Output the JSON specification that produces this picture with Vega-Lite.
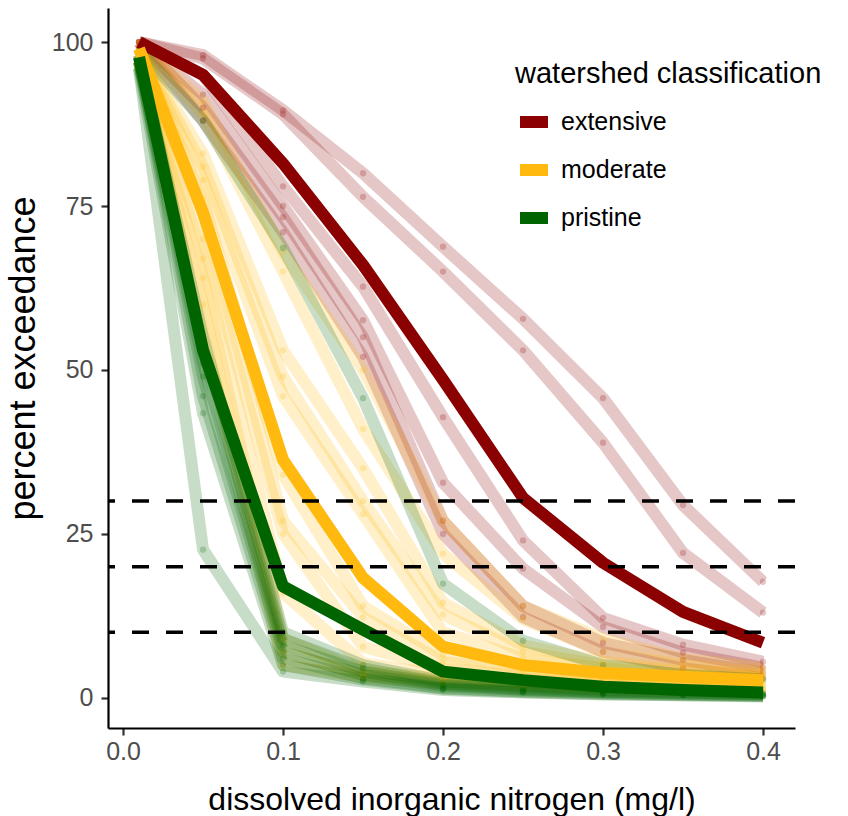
{
  "$schema": "https://vega.github.io/schema/vega-lite/v6.json",
  "width": 687,
  "height": 720,
  "autosize": {"type": "none"},
  "padding": {"left": 108, "top": 8, "right": 53, "bottom": 88},
  "background": "white",
  "config": {
    "view": {"stroke": null},
    "font": "Liberation Sans",
    "axis": {
      "grid": false,
      "domainColor": "black",
      "domainWidth": 2.2,
      "tickColor": "#333333",
      "tickWidth": 2.2,
      "tickSize": 7,
      "labelColor": "#4D4D4D",
      "labelFontSize": 25,
      "labelFont": "Liberation Sans",
      "titleFont": "Liberation Sans",
      "titleFontWeight": "normal",
      "titleColor": "black"
    }
  },
  "resolve": {"scale": {"color": "independent"}, "legend": {"color": "independent"}},
  "datasets": {
    "curves": [
      {"site": "E1", "class": "extensive", "din": 0.01, "pct": 100},
      {"site": "E1", "class": "extensive", "din": 0.05, "pct": 98},
      {"site": "E1", "class": "extensive", "din": 0.1, "pct": 89.6},
      {"site": "E1", "class": "extensive", "din": 0.15, "pct": 80},
      {"site": "E1", "class": "extensive", "din": 0.2, "pct": 68.8},
      {"site": "E1", "class": "extensive", "din": 0.25, "pct": 57.8},
      {"site": "E1", "class": "extensive", "din": 0.3, "pct": 45.7},
      {"site": "E1", "class": "extensive", "din": 0.35, "pct": 29.4},
      {"site": "E1", "class": "extensive", "din": 0.4, "pct": 17.7},
      {"site": "E2", "class": "extensive", "din": 0.01, "pct": 100},
      {"site": "E2", "class": "extensive", "din": 0.05, "pct": 97.5},
      {"site": "E2", "class": "extensive", "din": 0.1, "pct": 89},
      {"site": "E2", "class": "extensive", "din": 0.15, "pct": 76.4},
      {"site": "E2", "class": "extensive", "din": 0.2, "pct": 65},
      {"site": "E2", "class": "extensive", "din": 0.25, "pct": 53},
      {"site": "E2", "class": "extensive", "din": 0.3, "pct": 38.9},
      {"site": "E2", "class": "extensive", "din": 0.35, "pct": 22.1},
      {"site": "E2", "class": "extensive", "din": 0.4, "pct": 13},
      {"site": "E3", "class": "extensive", "din": 0.01, "pct": 100},
      {"site": "E3", "class": "extensive", "din": 0.05, "pct": 95},
      {"site": "E3", "class": "extensive", "din": 0.1, "pct": 78},
      {"site": "E3", "class": "extensive", "din": 0.15, "pct": 62.7},
      {"site": "E3", "class": "extensive", "din": 0.2, "pct": 42.8},
      {"site": "E3", "class": "extensive", "din": 0.25, "pct": 24},
      {"site": "E3", "class": "extensive", "din": 0.3, "pct": 12.2},
      {"site": "E3", "class": "extensive", "din": 0.35, "pct": 8.1},
      {"site": "E3", "class": "extensive", "din": 0.4, "pct": 5.5},
      {"site": "E4", "class": "extensive", "din": 0.01, "pct": 100},
      {"site": "E4", "class": "extensive", "din": 0.05, "pct": 92},
      {"site": "E4", "class": "extensive", "din": 0.1, "pct": 75},
      {"site": "E4", "class": "extensive", "din": 0.15, "pct": 57.6},
      {"site": "E4", "class": "extensive", "din": 0.2, "pct": 32.8},
      {"site": "E4", "class": "extensive", "din": 0.25, "pct": 19.7},
      {"site": "E4", "class": "extensive", "din": 0.3, "pct": 10.8},
      {"site": "E4", "class": "extensive", "din": 0.35, "pct": 6.9},
      {"site": "E4", "class": "extensive", "din": 0.4, "pct": 4.6},
      {"site": "E5", "class": "extensive", "din": 0.01, "pct": 100},
      {"site": "E5", "class": "extensive", "din": 0.05, "pct": 90},
      {"site": "E5", "class": "extensive", "din": 0.1, "pct": 73.3},
      {"site": "E5", "class": "extensive", "din": 0.15, "pct": 55},
      {"site": "E5", "class": "extensive", "din": 0.2, "pct": 27},
      {"site": "E5", "class": "extensive", "din": 0.25, "pct": 14},
      {"site": "E5", "class": "extensive", "din": 0.3, "pct": 8.4},
      {"site": "E5", "class": "extensive", "din": 0.35, "pct": 5.8},
      {"site": "E5", "class": "extensive", "din": 0.4, "pct": 3.8},
      {"site": "E6", "class": "extensive", "din": 0.01, "pct": 100},
      {"site": "E6", "class": "extensive", "din": 0.05, "pct": 88},
      {"site": "E6", "class": "extensive", "din": 0.1, "pct": 71},
      {"site": "E6", "class": "extensive", "din": 0.15, "pct": 52},
      {"site": "E6", "class": "extensive", "din": 0.2, "pct": 25},
      {"site": "E6", "class": "extensive", "din": 0.25, "pct": 12.3},
      {"site": "E6", "class": "extensive", "din": 0.3, "pct": 7},
      {"site": "E6", "class": "extensive", "din": 0.35, "pct": 4.5},
      {"site": "E6", "class": "extensive", "din": 0.4, "pct": 3},
      {"site": "M1", "class": "moderate", "din": 0.01, "pct": 100},
      {"site": "M1", "class": "moderate", "din": 0.05, "pct": 91},
      {"site": "M1", "class": "moderate", "din": 0.1, "pct": 68},
      {"site": "M1", "class": "moderate", "din": 0.15, "pct": 50},
      {"site": "M1", "class": "moderate", "din": 0.2, "pct": 27},
      {"site": "M1", "class": "moderate", "din": 0.25, "pct": 14},
      {"site": "M1", "class": "moderate", "din": 0.3, "pct": 9},
      {"site": "M1", "class": "moderate", "din": 0.35, "pct": 6},
      {"site": "M1", "class": "moderate", "din": 0.4, "pct": 4.5},
      {"site": "M2", "class": "moderate", "din": 0.01, "pct": 100},
      {"site": "M2", "class": "moderate", "din": 0.05, "pct": 89},
      {"site": "M2", "class": "moderate", "din": 0.1, "pct": 65},
      {"site": "M2", "class": "moderate", "din": 0.15, "pct": 41},
      {"site": "M2", "class": "moderate", "din": 0.2, "pct": 22},
      {"site": "M2", "class": "moderate", "din": 0.25, "pct": 12},
      {"site": "M2", "class": "moderate", "din": 0.3, "pct": 7},
      {"site": "M2", "class": "moderate", "din": 0.35, "pct": 5},
      {"site": "M2", "class": "moderate", "din": 0.4, "pct": 4},
      {"site": "M3", "class": "moderate", "din": 0.01, "pct": 99},
      {"site": "M3", "class": "moderate", "din": 0.05, "pct": 83},
      {"site": "M3", "class": "moderate", "din": 0.1, "pct": 53},
      {"site": "M3", "class": "moderate", "din": 0.15, "pct": 35},
      {"site": "M3", "class": "moderate", "din": 0.2, "pct": 14.5},
      {"site": "M3", "class": "moderate", "din": 0.25, "pct": 8},
      {"site": "M3", "class": "moderate", "din": 0.3, "pct": 5.5},
      {"site": "M3", "class": "moderate", "din": 0.35, "pct": 4.3},
      {"site": "M3", "class": "moderate", "din": 0.4, "pct": 3.5},
      {"site": "M4", "class": "moderate", "din": 0.01, "pct": 99},
      {"site": "M4", "class": "moderate", "din": 0.05, "pct": 81},
      {"site": "M4", "class": "moderate", "din": 0.1, "pct": 49},
      {"site": "M4", "class": "moderate", "din": 0.15, "pct": 30},
      {"site": "M4", "class": "moderate", "din": 0.2, "pct": 12.7},
      {"site": "M4", "class": "moderate", "din": 0.25, "pct": 7},
      {"site": "M4", "class": "moderate", "din": 0.3, "pct": 5},
      {"site": "M4", "class": "moderate", "din": 0.35, "pct": 4},
      {"site": "M4", "class": "moderate", "din": 0.4, "pct": 3.2},
      {"site": "M5", "class": "moderate", "din": 0.01, "pct": 99},
      {"site": "M5", "class": "moderate", "din": 0.05, "pct": 79},
      {"site": "M5", "class": "moderate", "din": 0.1, "pct": 46},
      {"site": "M5", "class": "moderate", "din": 0.15, "pct": 28},
      {"site": "M5", "class": "moderate", "din": 0.2, "pct": 10},
      {"site": "M5", "class": "moderate", "din": 0.25, "pct": 6},
      {"site": "M5", "class": "moderate", "din": 0.3, "pct": 4.5},
      {"site": "M5", "class": "moderate", "din": 0.35, "pct": 3.5},
      {"site": "M5", "class": "moderate", "din": 0.4, "pct": 3},
      {"site": "M6", "class": "moderate", "din": 0.01, "pct": 99},
      {"site": "M6", "class": "moderate", "din": 0.05, "pct": 76},
      {"site": "M6", "class": "moderate", "din": 0.1, "pct": 34},
      {"site": "M6", "class": "moderate", "din": 0.15, "pct": 14},
      {"site": "M6", "class": "moderate", "din": 0.2, "pct": 6.5},
      {"site": "M6", "class": "moderate", "din": 0.25, "pct": 4.5},
      {"site": "M6", "class": "moderate", "din": 0.3, "pct": 3.5},
      {"site": "M6", "class": "moderate", "din": 0.35, "pct": 3},
      {"site": "M6", "class": "moderate", "din": 0.4, "pct": 2.6},
      {"site": "M7", "class": "moderate", "din": 0.01, "pct": 98},
      {"site": "M7", "class": "moderate", "din": 0.05, "pct": 74},
      {"site": "M7", "class": "moderate", "din": 0.1, "pct": 27},
      {"site": "M7", "class": "moderate", "din": 0.15, "pct": 12.3},
      {"site": "M7", "class": "moderate", "din": 0.2, "pct": 5.5},
      {"site": "M7", "class": "moderate", "din": 0.25, "pct": 4},
      {"site": "M7", "class": "moderate", "din": 0.3, "pct": 3},
      {"site": "M7", "class": "moderate", "din": 0.35, "pct": 2.6},
      {"site": "M7", "class": "moderate", "din": 0.4, "pct": 2.3},
      {"site": "M8", "class": "moderate", "din": 0.01, "pct": 98},
      {"site": "M8", "class": "moderate", "din": 0.05, "pct": 70},
      {"site": "M8", "class": "moderate", "din": 0.1, "pct": 25},
      {"site": "M8", "class": "moderate", "din": 0.15, "pct": 7.8},
      {"site": "M8", "class": "moderate", "din": 0.2, "pct": 4.5},
      {"site": "M8", "class": "moderate", "din": 0.25, "pct": 3.3},
      {"site": "M8", "class": "moderate", "din": 0.3, "pct": 2.6},
      {"site": "M8", "class": "moderate", "din": 0.35, "pct": 2.2},
      {"site": "M8", "class": "moderate", "din": 0.4, "pct": 2},
      {"site": "M9", "class": "moderate", "din": 0.01, "pct": 98},
      {"site": "M9", "class": "moderate", "din": 0.05, "pct": 67},
      {"site": "M9", "class": "moderate", "din": 0.1, "pct": 16},
      {"site": "M9", "class": "moderate", "din": 0.15, "pct": 5.3},
      {"site": "M9", "class": "moderate", "din": 0.2, "pct": 3.5},
      {"site": "M9", "class": "moderate", "din": 0.25, "pct": 2.8},
      {"site": "M9", "class": "moderate", "din": 0.3, "pct": 2.2},
      {"site": "M9", "class": "moderate", "din": 0.35, "pct": 1.9},
      {"site": "M9", "class": "moderate", "din": 0.4, "pct": 1.7},
      {"site": "M10", "class": "moderate", "din": 0.01, "pct": 97},
      {"site": "M10", "class": "moderate", "din": 0.05, "pct": 64},
      {"site": "M10", "class": "moderate", "din": 0.1, "pct": 9},
      {"site": "M10", "class": "moderate", "din": 0.15, "pct": 4},
      {"site": "M10", "class": "moderate", "din": 0.2, "pct": 3},
      {"site": "M10", "class": "moderate", "din": 0.25, "pct": 2.4},
      {"site": "M10", "class": "moderate", "din": 0.3, "pct": 1.9},
      {"site": "M10", "class": "moderate", "din": 0.35, "pct": 1.6},
      {"site": "M10", "class": "moderate", "din": 0.4, "pct": 1.4},
      {"site": "M11", "class": "moderate", "din": 0.01, "pct": 97},
      {"site": "M11", "class": "moderate", "din": 0.05, "pct": 60},
      {"site": "M11", "class": "moderate", "din": 0.1, "pct": 7},
      {"site": "M11", "class": "moderate", "din": 0.15, "pct": 3.5},
      {"site": "M11", "class": "moderate", "din": 0.2, "pct": 2.6},
      {"site": "M11", "class": "moderate", "din": 0.25, "pct": 2},
      {"site": "M11", "class": "moderate", "din": 0.3, "pct": 1.6},
      {"site": "M11", "class": "moderate", "din": 0.35, "pct": 1.4},
      {"site": "M11", "class": "moderate", "din": 0.4, "pct": 1.2},
      {"site": "M12", "class": "moderate", "din": 0.01, "pct": 97},
      {"site": "M12", "class": "moderate", "din": 0.05, "pct": 56},
      {"site": "M12", "class": "moderate", "din": 0.1, "pct": 5},
      {"site": "M12", "class": "moderate", "din": 0.15, "pct": 3.2},
      {"site": "M12", "class": "moderate", "din": 0.2, "pct": 2.2},
      {"site": "M12", "class": "moderate", "din": 0.25, "pct": 1.8},
      {"site": "M12", "class": "moderate", "din": 0.3, "pct": 1.4},
      {"site": "M12", "class": "moderate", "din": 0.35, "pct": 1.2},
      {"site": "M12", "class": "moderate", "din": 0.4, "pct": 1},
      {"site": "P1", "class": "pristine", "din": 0.01, "pct": 99},
      {"site": "P1", "class": "pristine", "din": 0.05, "pct": 88},
      {"site": "P1", "class": "pristine", "din": 0.1, "pct": 68.6},
      {"site": "P1", "class": "pristine", "din": 0.15, "pct": 45.7},
      {"site": "P1", "class": "pristine", "din": 0.2, "pct": 17.4},
      {"site": "P1", "class": "pristine", "din": 0.25, "pct": 8.7},
      {"site": "P1", "class": "pristine", "din": 0.3, "pct": 5},
      {"site": "P1", "class": "pristine", "din": 0.35, "pct": 3.5},
      {"site": "P1", "class": "pristine", "din": 0.4, "pct": 2.8},
      {"site": "P2", "class": "pristine", "din": 0.01, "pct": 98},
      {"site": "P2", "class": "pristine", "din": 0.05, "pct": 55},
      {"site": "P2", "class": "pristine", "din": 0.1, "pct": 10},
      {"site": "P2", "class": "pristine", "din": 0.15, "pct": 5},
      {"site": "P2", "class": "pristine", "din": 0.2, "pct": 2.5},
      {"site": "P2", "class": "pristine", "din": 0.25, "pct": 1.8},
      {"site": "P2", "class": "pristine", "din": 0.3, "pct": 1.2},
      {"site": "P2", "class": "pristine", "din": 0.35, "pct": 0.9},
      {"site": "P2", "class": "pristine", "din": 0.4, "pct": 0.7},
      {"site": "P3", "class": "pristine", "din": 0.01, "pct": 98},
      {"site": "P3", "class": "pristine", "din": 0.05, "pct": 53},
      {"site": "P3", "class": "pristine", "din": 0.1, "pct": 9},
      {"site": "P3", "class": "pristine", "din": 0.15, "pct": 4.5},
      {"site": "P3", "class": "pristine", "din": 0.2, "pct": 2.2},
      {"site": "P3", "class": "pristine", "din": 0.25, "pct": 1.5},
      {"site": "P3", "class": "pristine", "din": 0.3, "pct": 1},
      {"site": "P3", "class": "pristine", "din": 0.35, "pct": 0.8},
      {"site": "P3", "class": "pristine", "din": 0.4, "pct": 0.6},
      {"site": "P4", "class": "pristine", "din": 0.01, "pct": 97},
      {"site": "P4", "class": "pristine", "din": 0.05, "pct": 51},
      {"site": "P4", "class": "pristine", "din": 0.1, "pct": 8},
      {"site": "P4", "class": "pristine", "din": 0.15, "pct": 4},
      {"site": "P4", "class": "pristine", "din": 0.2, "pct": 2},
      {"site": "P4", "class": "pristine", "din": 0.25, "pct": 1.3},
      {"site": "P4", "class": "pristine", "din": 0.3, "pct": 0.9},
      {"site": "P4", "class": "pristine", "din": 0.35, "pct": 0.7},
      {"site": "P4", "class": "pristine", "din": 0.4, "pct": 0.5},
      {"site": "P5", "class": "pristine", "din": 0.01, "pct": 97},
      {"site": "P5", "class": "pristine", "din": 0.05, "pct": 49},
      {"site": "P5", "class": "pristine", "din": 0.1, "pct": 7},
      {"site": "P5", "class": "pristine", "din": 0.15, "pct": 3.5},
      {"site": "P5", "class": "pristine", "din": 0.2, "pct": 1.8},
      {"site": "P5", "class": "pristine", "din": 0.25, "pct": 1.2},
      {"site": "P5", "class": "pristine", "din": 0.3, "pct": 0.8},
      {"site": "P5", "class": "pristine", "din": 0.35, "pct": 0.6},
      {"site": "P5", "class": "pristine", "din": 0.4, "pct": 0.4},
      {"site": "P6", "class": "pristine", "din": 0.01, "pct": 97},
      {"site": "P6", "class": "pristine", "din": 0.05, "pct": 46},
      {"site": "P6", "class": "pristine", "din": 0.1, "pct": 6},
      {"site": "P6", "class": "pristine", "din": 0.15, "pct": 3},
      {"site": "P6", "class": "pristine", "din": 0.2, "pct": 1.5},
      {"site": "P6", "class": "pristine", "din": 0.25, "pct": 1},
      {"site": "P6", "class": "pristine", "din": 0.3, "pct": 0.7},
      {"site": "P6", "class": "pristine", "din": 0.35, "pct": 0.5},
      {"site": "P6", "class": "pristine", "din": 0.4, "pct": 0.3},
      {"site": "P7", "class": "pristine", "din": 0.01, "pct": 96},
      {"site": "P7", "class": "pristine", "din": 0.05, "pct": 43.4},
      {"site": "P7", "class": "pristine", "din": 0.1, "pct": 5},
      {"site": "P7", "class": "pristine", "din": 0.15, "pct": 2.8},
      {"site": "P7", "class": "pristine", "din": 0.2, "pct": 1.4},
      {"site": "P7", "class": "pristine", "din": 0.25, "pct": 0.9},
      {"site": "P7", "class": "pristine", "din": 0.3, "pct": 0.6},
      {"site": "P7", "class": "pristine", "din": 0.35, "pct": 0.4},
      {"site": "P7", "class": "pristine", "din": 0.4, "pct": 0.3},
      {"site": "P8", "class": "pristine", "din": 0.01, "pct": 96},
      {"site": "P8", "class": "pristine", "din": 0.05, "pct": 22.6},
      {"site": "P8", "class": "pristine", "din": 0.1, "pct": 4},
      {"site": "P8", "class": "pristine", "din": 0.15, "pct": 2.5},
      {"site": "P8", "class": "pristine", "din": 0.2, "pct": 1.2},
      {"site": "P8", "class": "pristine", "din": 0.25, "pct": 0.8},
      {"site": "P8", "class": "pristine", "din": 0.3, "pct": 0.5},
      {"site": "P8", "class": "pristine", "din": 0.35, "pct": 0.4},
      {"site": "P8", "class": "pristine", "din": 0.4, "pct": 0.2}
    ],
    "means": [
      {"class": "extensive", "din": 0.01, "pct": 100},
      {"class": "extensive", "din": 0.05, "pct": 95},
      {"class": "extensive", "din": 0.1, "pct": 81.5},
      {"class": "extensive", "din": 0.15, "pct": 66},
      {"class": "extensive", "din": 0.2, "pct": 48.5},
      {"class": "extensive", "din": 0.25, "pct": 30.5},
      {"class": "extensive", "din": 0.3, "pct": 20.6},
      {"class": "extensive", "din": 0.35, "pct": 13.1},
      {"class": "extensive", "din": 0.4, "pct": 8.4},
      {"class": "moderate", "din": 0.01, "pct": 99},
      {"class": "moderate", "din": 0.05, "pct": 74},
      {"class": "moderate", "din": 0.1, "pct": 36.3},
      {"class": "moderate", "din": 0.15, "pct": 18.3},
      {"class": "moderate", "din": 0.2, "pct": 7.8},
      {"class": "moderate", "din": 0.25, "pct": 5},
      {"class": "moderate", "din": 0.3, "pct": 3.8},
      {"class": "moderate", "din": 0.35, "pct": 3.2},
      {"class": "moderate", "din": 0.4, "pct": 2.7},
      {"class": "pristine", "din": 0.01, "pct": 97.7},
      {"class": "pristine", "din": 0.05, "pct": 53},
      {"class": "pristine", "din": 0.1, "pct": 17},
      {"class": "pristine", "din": 0.15, "pct": 10.4},
      {"class": "pristine", "din": 0.2, "pct": 4},
      {"class": "pristine", "din": 0.25, "pct": 2.7},
      {"class": "pristine", "din": 0.3, "pct": 1.7},
      {"class": "pristine", "din": 0.35, "pct": 1.2},
      {"class": "pristine", "din": 0.4, "pct": 0.8}
    ],
    "thresholds": [{"level": 10}, {"level": 20}, {"level": 30}]
  },
  "layer": [
    {
      "data": {"name": "curves"},
      "mark": {"type": "line", "strokeWidth": 12, "opacity": 0.22, "strokeCap": "butt", "strokeJoin": "round"},
      "encoding": {
        "x": {"field": "din", "type": "quantitative", "scale": {"domain": [-0.0094, 0.42], "nice": false, "zero": false},
          "axis": {"values": [0, 0.1, 0.2, 0.3, 0.4], "format": ".1f", "title": "dissolved inorganic nitrogen (mg/l)", "titleFontSize": 32, "titlePadding": 20, "labelPadding": 4}},
        "y": {"field": "pct", "type": "quantitative", "scale": {"domain": [-4.6, 105.2], "nice": false, "zero": false},
          "axis": {"values": [0, 25, 50, 75, 100], "title": "percent exceedance", "titleFontSize": 36, "titlePadding": 9, "titleY": 350, "labelPadding": 8}},
        "color": {"field": "class", "type": "nominal", "scale": {"domain": ["extensive", "moderate", "pristine"], "range": ["#8B0000", "#FFB90F", "#006400"]}, "legend": null},
        "detail": {"field": "site"}
      }
    },
    {
      "data": {"name": "curves"},
      "mark": {"type": "circle", "size": 40, "opacity": 0.22},
      "encoding": {
        "x": {"field": "din", "type": "quantitative"},
        "y": {"field": "pct", "type": "quantitative"},
        "color": {"field": "class", "type": "nominal", "scale": {"domain": ["extensive", "moderate", "pristine"], "range": ["#8B0000", "#FFB90F", "#006400"]}, "legend": null}
      }
    },
    {
      "data": {"name": "means"},
      "mark": {"type": "line", "strokeWidth": 12, "opacity": 1, "strokeCap": "butt", "strokeJoin": "round"},
      "encoding": {
        "x": {"field": "din", "type": "quantitative"},
        "y": {"field": "pct", "type": "quantitative"},
        "color": {"field": "class", "type": "nominal", "scale": {"domain": ["extensive", "moderate", "pristine"], "range": ["#8B0000", "#FFB90F", "#006400"]},
          "legend": {
            "title": "watershed classification",
            "orient": "none",
            "legendX": 407,
            "legendY": 52,
            "titleFontSize": 29,
            "titleFontWeight": "normal",
            "titleColor": "black",
            "titleFont": "Liberation Sans",
            "titleLimit": 500,
            "titlePadding": 20,
            "labelFontSize": 25,
            "labelColor": "black",
            "labelFont": "Liberation Sans",
            "labelLimit": 300,
            "labelOffset": 14,
            "symbolType": "M-2,0H2",
            "symbolSize": 196,
            "symbolStrokeWidth": 12,
            "symbolOpacity": 1,
            "symbolOffset": 6,
            "rowPadding": 0
          }}
      }
    },
    {
      "data": {"name": "thresholds"},
      "mark": {"type": "rule", "color": "black", "strokeWidth": 3.5, "strokeDash": [17, 17]},
      "encoding": {"y": {"field": "level", "type": "quantitative"}}
    }
  ]
}
